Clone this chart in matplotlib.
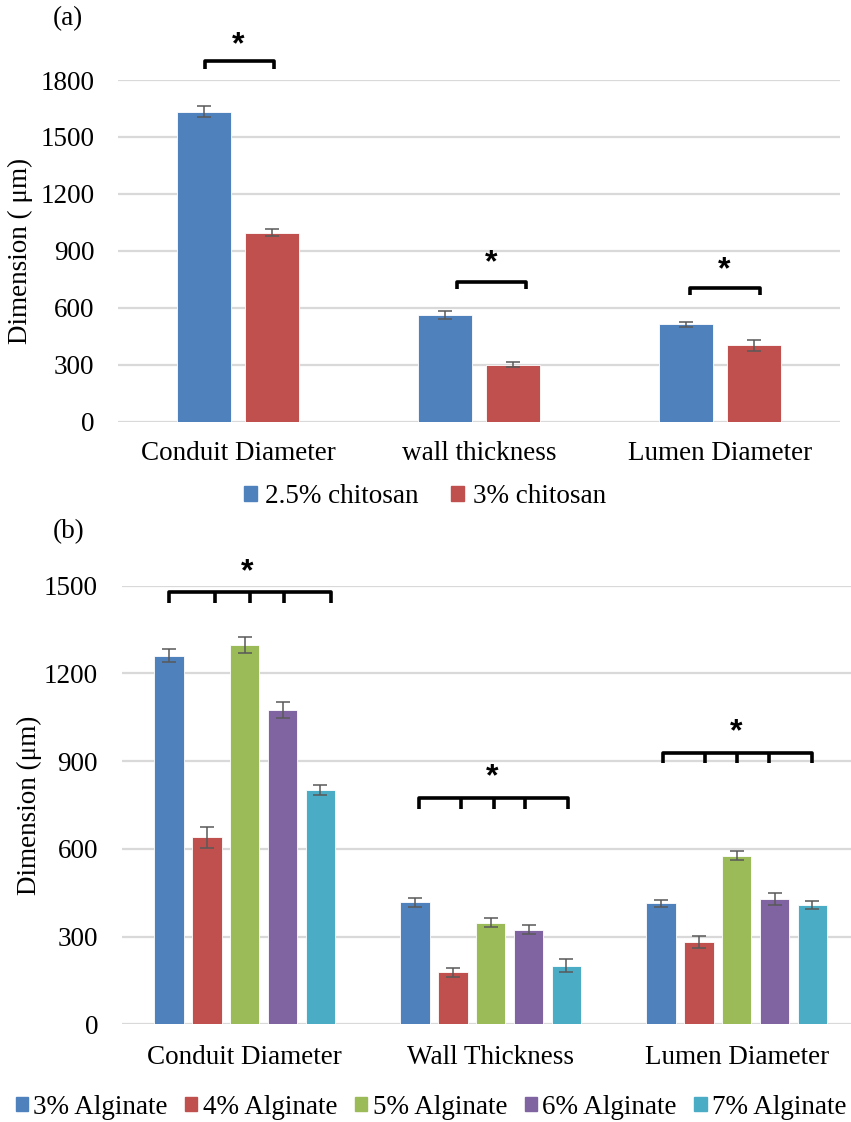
import matplotlib
matplotlib.use("Agg")
import matplotlib.pyplot as plt
import numpy as np
from matplotlib.patches import Patch

plt.rcParams['font.family'] = ['Liberation Serif', 'DejaVu Serif']

# ---------------- data ----------------
cats_a = ['Conduit Diameter', 'wall thickness', 'Lumen Diameter']
chit25 = [1633, 562, 513]
chit25_err = [28, 19, 12]
chit3 = [996, 300, 402]
chit3_err = [19, 14, 27]
series_a = ['2.5% chitosan', '3% chitosan']
yticks_a = [0, 300, 600, 900, 1200, 1500, 1800]

cats_b = ['Conduit Diameter', 'Wall Thickness', 'Lumen Diameter']
alg3 = [1260, 417, 414]
alg3_err = [22, 15, 12]
alg4 = [640, 178, 281]
alg4_err = [36, 16, 21]
alg5 = [1297, 348, 577]
alg5_err = [28, 16, 16]
alg6 = [1075, 323, 429]
alg6_err = [28, 15, 20]
alg7 = [802, 200, 407]
alg7_err = [18, 22, 14]
series_b = ['3% Alginate', '4% Alginate', '5% Alginate', '6% Alginate', '7% Alginate']
yticks_b = [0, 300, 600, 900, 1200, 1500]

colors = ['#4F81BD', '#C0504D', '#9BBB59', '#8064A2', '#4BACC6']
grid_c = '#D9D9D9'
err_c = '#595959'
FS = 19.5

fig = plt.figure(figsize=(8.51, 11.22), dpi=100)
W, H = 851, 1122

def style_axis(ax, yticks, ymax, xpad):
    ax.set_ylim(0, ymax)
    ax.set_xlim(-0.5, 2.5)
    ax.set_yticks(yticks)
    ax.yaxis.grid(True, color=grid_c, linewidth=1.6)
    ax.set_axisbelow(True)
    for s in ax.spines.values():
        s.set_visible(False)
    ax.tick_params(axis='both', length=0, labelsize=FS)
    ax.tick_params(axis='y', pad=17)
    ax.tick_params(axis='x', pad=xpad)

def bracket(ax, xs, ytop, ybot, xstar, ystar):
    ax.plot([xs[0], xs[0], xs[-1], xs[-1]], [ybot, ytop, ytop, ybot],
            color='black', lw=2.6, clip_on=False, solid_joinstyle='round',
            solid_capstyle='butt')
    for x in xs[1:-1]:
        ax.plot([x, x], [ytop, ybot], color='black', lw=2.6, clip_on=False,
                solid_capstyle='butt')
    ax.text(xstar, ystar, '*', ha='center', va='center', fontsize=23,
            fontweight='bold', family=['Liberation Sans', 'DejaVu Sans'],
            clip_on=False)

# ---------------- panel (a) ----------------
axa = fig.add_axes([118 / W, 1 - 421.7 / H, 722 / W, (421.7 - 80) / H])
style_axis(axa, yticks_a, 1800, 14)
xa = np.arange(len(cats_a))
wa = 0.224
offs_a = [-0.141, 0.141]
for vals, errs, off, c in zip([chit25, chit3], [chit25_err, chit3_err], offs_a, colors):
    axa.bar(xa + off, vals, width=wa, color=c, edgecolor='white', linewidth=0.6)
    axa.errorbar(xa + off, vals, yerr=errs, fmt='none', ecolor=err_c,
                 elinewidth=1.1, capsize=5, capthick=1.1)
axa.set_xticks(xa)
axa.set_xticklabels(cats_a)
axa.set_ylabel('Dimension ( \u03bcm)', fontsize=FS, labelpad=4)
axa.yaxis.set_label_coords(-0.118, 0.5)

bracket(axa, [-0.139, 0.147], 1900, 1860, -0.002, 1985)
bracket(axa, [0.909, 1.197], 738, 698, 1.049, 833)
bracket(axa, [1.876, 2.166], 706, 666, 2.020, 800)

fig.text(68 / W, 1 - 19 / H, '(a)', ha='center', va='center', fontsize=FS)
fig.legend([Patch(color=colors[0]), Patch(color=colors[1])], series_a,
           loc='center', bbox_to_anchor=(425 / W, 1 - 497 / H), ncol=2,
           frameon=False, fontsize=FS, handlelength=0.48, handleheight=0.48,
           handletextpad=0.3, columnspacing=1.2)

# ---------------- panel (b) ----------------
axb = fig.add_axes([121.7 / W, 1 - 1024.3 / H, 738 / W, (1024.3 - 585.7) / H])
style_axis(axb, yticks_b, 1500, 15)
xb = np.arange(len(cats_b))
wb = 0.12
pitch = 0.154
vals_b = [alg3, alg4, alg5, alg6, alg7]
errs_b = [alg3_err, alg4_err, alg5_err, alg6_err, alg7_err]
for i, (vals, errs, c) in enumerate(zip(vals_b, errs_b, colors)):
    off = (i - 2) * pitch
    axb.bar(xb + off, vals, width=wb, color=c, edgecolor='white', linewidth=0.6)
    axb.errorbar(xb + off, vals, yerr=errs, fmt='none', ecolor=err_c,
                 elinewidth=1.1, capsize=5, capthick=1.1)
axb.set_xticks(xb)
axb.set_xticklabels(cats_b)
axb.set_ylabel('Dimension (\u03bcm)', fontsize=FS, labelpad=4)
axb.yaxis.set_label_coords(-0.108, 0.5)

bracket(axb, [-0.306, -0.119, 0.022, 0.161, 0.349], 1477, 1442, 0.009, 1545)
bracket(axb, [1 - 0.292, 1 - 0.12, 1.012, 1.14, 1.313], 774, 737, 1.004, 845)
bracket(axb, [2 - 0.299, 2 - 0.127, 2.003, 2.133, 2.306], 927, 893, 1.997, 998)

fig.text(69 / W, 1 - 532 / H, '(b)', ha='center', va='center', fontsize=FS)
fig.legend([Patch(color=c) for c in colors], series_b,
           loc='center', bbox_to_anchor=(431 / W, 1 - 1107 / H), ncol=5,
           frameon=False, fontsize=FS, handlelength=0.45, handleheight=0.45,
           handletextpad=0.2, columnspacing=0.65)

fig.savefig('out.png', dpi=100)
